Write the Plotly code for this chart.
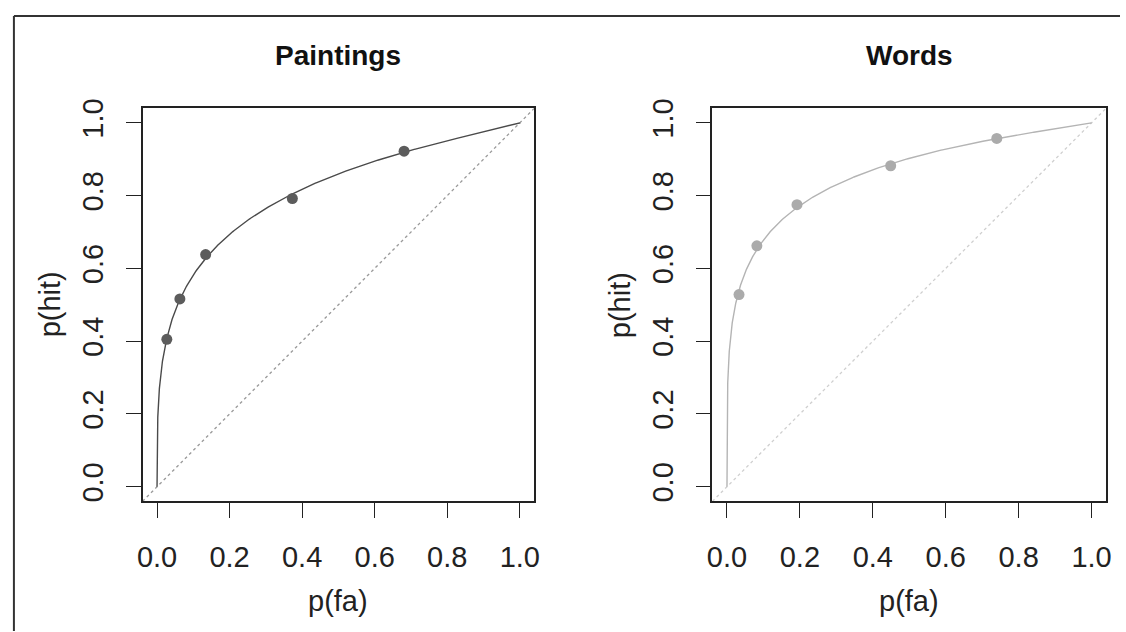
import math
import plotly.graph_objects as go

# Observed hit / false-alarm rates for each confidence criterion
paint_fa = [0.027, 0.063, 0.134, 0.373, 0.681]
paint_hit = [0.405, 0.516, 0.638, 0.792, 0.922]
words_fa = [0.033, 0.082, 0.192, 0.449, 0.740]
words_hit = [0.528, 0.662, 0.775, 0.882, 0.957]

# Unequal-variance signal detection fits (d', target SD)
paint_d, paint_s = 1.585, 1.469
words_d, words_s = 1.992, 1.538

tick_vals = [0.0, 0.2, 0.4, 0.6, 0.8, 1.0]
tick_text = ["0.0", "0.2", "0.4", "0.6", "0.8", "1.0"]
panel_titles = ["Paintings", "Words"]

W, H = 1126, 632
FONT = "Liberation Sans, Arial, sans-serif"


def phi(z):
    return 0.5 * (1.0 + math.erf(z / math.sqrt(2.0)))


def roc_curve(d, s):
    crit = [-7 + i * 0.01 for i in range(1401)]
    fa = [0.0] + [phi(-c) for c in reversed(crit)] + [1.0]
    hit = [0.0] + [phi((d - c) / s) for c in reversed(crit)] + [1.0]
    return fa, hit


fig = go.Figure()

panels = [
    dict(fa=paint_fa, hit=paint_hit, d=paint_d, s=paint_s,
         pt="#5c5c5c", ln="#4a4a4a", diag="#9a9a9a", xa="x", ya="y"),
    dict(fa=words_fa, hit=words_hit, d=words_d, s=words_s,
         pt="#ababab", ln="#b4b4b4", diag="#cfcfcf", xa="x2", ya="y2"),
]

for p in panels:
    cf, ch = roc_curve(p["d"], p["s"])
    fig.add_trace(go.Scatter(x=[-0.04, 1.04], y=[-0.04, 1.04], mode="lines",
                             line=dict(color=p["diag"], width=1.3, dash="dot"),
                             xaxis=p["xa"], yaxis=p["ya"], hoverinfo="skip"))
    fig.add_trace(go.Scatter(x=cf, y=ch, mode="lines",
                             line=dict(color=p["ln"], width=1.4),
                             xaxis=p["xa"], yaxis=p["ya"]))
    fig.add_trace(go.Scatter(x=p["fa"], y=p["hit"], mode="markers",
                             marker=dict(color=p["pt"], size=11),
                             xaxis=p["xa"], yaxis=p["ya"]))

boxes = [(138, 534), (714, 1112)]
top, bottom = 100, 500
ydom = [1 - bottom / H, 1 - top / H]

common = dict(range=[-0.04, 1.04], tickmode="array", tickvals=tick_vals,
              ticktext=tick_text, ticks="outside", ticklen=15, tickwidth=1.3,
              tickcolor="#222", showline=True, mirror=True, linecolor="#222",
              linewidth=1.5, showgrid=False, zeroline=False,
              tickfont=dict(family=FONT, size=29, color="#222"))

layout_axes = {}
for i, (x0, x1) in enumerate(boxes):
    sfx = "" if i == 0 else str(i + 1)
    layout_axes["xaxis" + sfx] = dict(common, domain=[x0 / W, x1 / W],
                                      anchor="y" + sfx, ticklabelstandoff=14)
    layout_axes["yaxis" + sfx] = dict(common, domain=ydom, anchor="x" + sfx,
                                      tickangle=-90, ticklabelstandoff=11)

annotations = []
for (x0, x1), title in zip(boxes, panel_titles):
    cx = (x0 + x1) / 2 / W
    annotations.append(dict(text="<b>" + title + "</b>", x=cx, y=1 - 46 / H,
                            xref="paper", yref="paper", showarrow=False,
                            xanchor="center", yanchor="middle",
                            font=dict(family=FONT, size=28, color="#111")))
    annotations.append(dict(text="p(fa)", x=cx, y=1 - 601 / H,
                            xref="paper", yref="paper", showarrow=False,
                            xanchor="center", yanchor="middle",
                            font=dict(family=FONT, size=29, color="#222")))
    annotations.append(dict(text="p(hit)", x=(x0 - 94) / W, y=1 - 300 / H,
                            xref="paper", yref="paper", showarrow=False,
                            textangle=-90, xanchor="center", yanchor="middle",
                            font=dict(family=FONT, size=29, color="#222")))

# outer frame (top and left edges)
shapes = [
    dict(type="line", xref="paper", yref="paper", x0=8 / W, x1=1.0,
         y0=1 - 6 / H, y1=1 - 6 / H, line=dict(color="#333", width=2)),
    dict(type="line", xref="paper", yref="paper", x0=8 / W, x1=8 / W,
         y0=0.0, y1=1 - 6 / H, line=dict(color="#333", width=2)),
]

fig.update_layout(width=W, height=H, margin=dict(l=0, r=0, t=0, b=0),
                  paper_bgcolor="white", plot_bgcolor="white",
                  showlegend=False, annotations=annotations, shapes=shapes,
                  **layout_axes)

fig.write_html("out.html")
